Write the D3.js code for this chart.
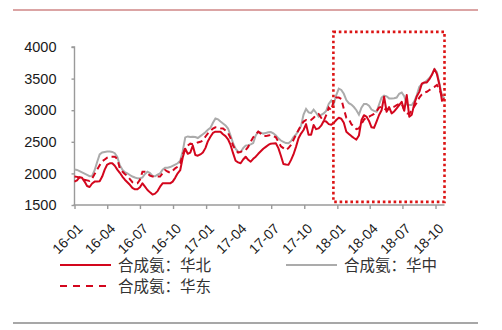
<!DOCTYPE html>
<html>
<head>
<meta charset="utf-8">
<script src="https://cdn.jsdelivr.net/npm/d3@7"></script>
<style>
  html, body { margin: 0; padding: 0; background: #fff; }
  svg { display: block; }
  .tick text { font-family: "Liberation Sans", Arial, sans-serif; fill: #1a1a1a; }
  .legend text { font-family: "Noto Sans CJK SC", sans-serif; fill: #333; }
</style>
</head>
<body>
<svg id="chart" width="502" height="330"></svg>
<script>
// Weekly synthetic-ammonia prices (yuan/t), first week 2016-01-01
const startDate = "2016-01-01";

const northChina = [
  1870,1890,1940,1930,1870,1800,1785,1840,1870,1870,1875,1950,2060,2140,2160,2160,
  2120,2060,2010,1950,1900,1860,1820,1770,1748,1748,1780,1843,1790,1737,1700,1665,
  1680,1720,1790,1843,1843,1843,1843,1870,1930,2001,2050,2250,2390,2310,2330,2440,
  2290,2280,2300,2330,2400,2510,2580,2640,2660,2660,2660,2620,2590,2540,2450,2320,
  2200,2175,2160,2220,2264,2215,2185,2230,2265,2310,2350,2390,2420,2450,2470,2475,
  2476,2400,2280,2150,2140,2135,2210,2300,2420,2555,2630,2687,2780,2610,2610,2766,
  2700,2713,2755,2830,2820,2780,2770,2800,2845,2880,2865,2800,2660,2625,2590,2560,
  2535,2600,2840,2920,2900,2830,2730,2720,2820,2924,3000,3213,2976,3050,2950,2980,
  3030,3080,3134,2990,3240,2897,2930,3100,3220,3290,3420,3440,3440,3490,3560,3651,
  3570,3400,3150,3187
];

const centralChina = [
  2060,2055,2035,2015,1995,1975,1955,1960,2050,2180,2300,2330,2340,2345,2345,2340,
  2320,2260,2130,2060,2020,2000,1975,1950,1935,1922,1920,1935,1990,2027,2005,1960,
  1955,1980,2000,2060,2088,2090,2100,2120,2140,2160,2200,2350,2570,2585,2575,2580,
  2575,2560,2590,2620,2650,2690,2720,2800,2870,2855,2820,2790,2760,2710,2600,2480,
  2390,2343,2335,2400,2440,2445,2460,2480,2600,2660,2645,2630,2640,2650,2655,2635,
  2600,2555,2520,2500,2480,2476,2510,2575,2615,2680,2750,2930,3020,2965,2955,3010,
  2960,2900,2925,2950,2990,3100,3155,3100,3240,3340,3320,3260,3160,3110,3090,3050,
  3000,2930,3040,3100,3100,3070,3010,2990,2976,3090,3200,3230,3220,3187,3187,3190,
  3200,3260,3280,3220,3090,3082,3082,3140,3240,3370,3410,3430,3470,3510,3565,3650,
  3600,3420,3230,3190
];

const eastChina = [
  1950,1945,1935,1915,1900,1890,1880,1920,1990,2060,2130,2190,2220,2250,2264,2264,
  2264,2230,2080,2030,1990,1960,1910,1860,1843,1843,1900,2027,2027,2000,1965,1950,
  1948,1950,1950,2000,2054,2030,2010,2040,2080,2106,2160,2300,2400,2440,2470,2460,
  2470,2490,2500,2520,2580,2634,2670,2710,2730,2725,2715,2710,2680,2640,2560,2440,
  2370,2330,2340,2360,2370,2420,2500,2570,2620,2660,2630,2590,2590,2600,2607,2590,
  2570,2500,2430,2400,2370,2400,2450,2530,2610,2687,2760,2820,2845,2830,2845,2880,
  2920,2940,2880,2830,2920,3040,3000,3150,3200,3200,3180,3020,2880,2860,2780,2740,
  2700,2713,2780,2850,2890,2897,2920,2940,2980,3040,3055,3030,3003,3020,3040,3055,
  3080,3100,3100,3000,2950,2940,3000,3060,3120,3200,3250,3280,3292,3320,3346,3370,
  3398,3330,3230,3187
];

const seriesNames = ["合成氨：华北", "合成氨：华中", "合成氨：华东"];
const yTicks = [1500, 2000, 2500, 3000, 3500, 4000];
const xTickLabels = ["16-01","16-04","16-07","16-10","17-01","17-04","17-07","17-10","18-01","18-04","18-07","18-10"];
// Highlighted period and value band for the dotted frame
const highlightDates = ["2017-12-21", "2018-10-26"];
const highlightValues = [1550, 4240];

const parse = d3.timeParse("%Y-%m-%d");
const start = parse(startDate);
const dates = d3.range(northChina.length).map(i => d3.timeDay.offset(start, 7 * i));

const svg = d3.select("#chart");
const RED = "#d3061d", GRAY = "#ababab";

const x = d3.scaleTime().domain([start, dates[dates.length - 1]]).range([74.5, 444.5]);
const y = d3.scaleLinear().domain([1500, 4000]).range([205, 47]);

// Header and footer rules
svg.append("line").attr("x1", 13).attr("x2", 478).attr("y1", 10).attr("y2", 10)
  .attr("stroke", "#cf8686").attr("stroke-width", 1.6);
svg.append("line").attr("x1", 13).attr("x2", 478).attr("y1", 323).attr("y2", 323)
  .attr("stroke", "#8a8a8a").attr("stroke-width", 1.6);

// Y axis
const yAxis = svg.append("g").attr("transform", "translate(74.5,0)")
  .call(d3.axisLeft(y).tickValues(yTicks).tickSize(3).tickPadding(15).tickFormat(d3.format("d")));
yAxis.selectAll("path, line").attr("stroke", "#9a9a9a").attr("stroke-width", 1.4);
yAxis.select(".domain").attr("d", `M-3,${y(4000)}H0V${y(1500)}`);
yAxis.selectAll("text").attr("font-size", 14.5);

// X axis with quarterly ticks
const quarterDates = xTickLabels.map(s => parse("20" + s + "-01"));
const xAxis = svg.append("g").attr("transform", "translate(0,205)")
  .call(d3.axisBottom(x).tickValues(quarterDates).tickSize(4).tickFormat((d, i) => xTickLabels[i]));
xAxis.selectAll("path, line").attr("stroke", "#9a9a9a").attr("stroke-width", 1.4);
xAxis.select(".domain").attr("d", `M${x.range()[0] - 1},0H${x.range()[1]}`);
xAxis.selectAll("text")
  .attr("font-size", 14)
  .attr("text-anchor", "end")
  .attr("dy", "0.35em")
  .attr("y", 0)
  .attr("transform", "translate(5,21) rotate(-45)");

// Price lines
const line = d3.line().x((d, i) => x(dates[i])).y(d => y(d));
svg.append("path").datum(centralChina).attr("d", line)
  .attr("fill", "none").attr("stroke", GRAY).attr("stroke-width", 2);
svg.append("path").datum(eastChina).attr("d", line)
  .attr("fill", "none").attr("stroke", RED).attr("stroke-width", 2)
  .attr("stroke-dasharray", "6,4");
svg.append("path").datum(northChina).attr("d", line)
  .attr("fill", "none").attr("stroke", RED).attr("stroke-width", 2)
  .attr("stroke-linejoin", "round");

// Dotted highlight frame
const hx0 = x(parse(highlightDates[0])), hx1 = x(parse(highlightDates[1]));
const hy0 = y(highlightValues[1]), hy1 = y(highlightValues[0]);
svg.append("rect").attr("x", hx0).attr("y", hy0)
  .attr("width", hx1 - hx0).attr("height", hy1 - hy0)
  .attr("fill", "none").attr("stroke", "#dc1414").attr("stroke-width", 2.6)
  .attr("stroke-dasharray", "2.6,2.8");

// Legend
const legendItems = [
  { name: seriesNames[0], color: RED, dash: null, x: 60, y: 265 },
  { name: seriesNames[1], color: GRAY, dash: null, x: 286, y: 265 },
  { name: seriesNames[2], color: RED, dash: "7,6", x: 60, y: 286 }
];
const lg = svg.append("g").attr("class", "legend");
legendItems.forEach(it => {
  lg.append("line").attr("x1", it.x).attr("x2", it.x + 51).attr("y1", it.y).attr("y2", it.y)
    .attr("stroke", it.color).attr("stroke-width", 2.2)
    .attr("stroke-dasharray", it.dash);
  lg.append("text").attr("x", it.x + 58).attr("y", it.y).attr("dy", "0.36em")
    .attr("font-size", 15.5).text(it.name);
});
</script>
</body>
</html>
